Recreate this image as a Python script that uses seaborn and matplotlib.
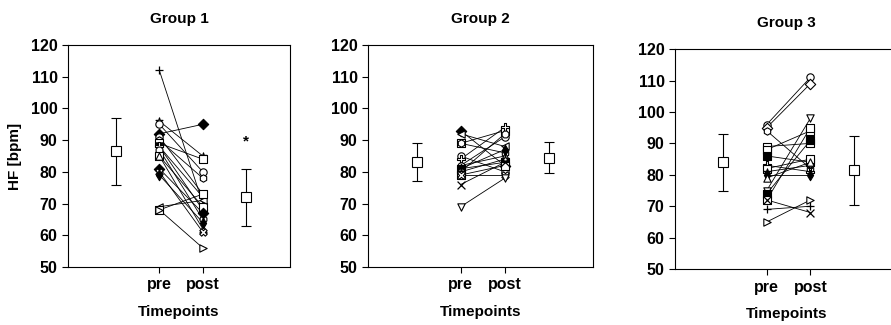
import numpy as np
import pandas as pd
import matplotlib
matplotlib.use("Agg")
import matplotlib.pyplot as plt
import seaborn as sns

# ── Data (heart rate, bpm) ──────────────────────────────────────────────────
groups = ["Group 1", "Group 2", "Group 3"]
tick_labels = ["pre", "post"]

g1_pre = [112, 96, 95, 92, 91, 90, 89, 88, 88, 87, 85, 85, 81, 80, 79, 69, 68, 68]
g1_post = [70, 85, 80, 95, 73, 78, 84, 72, 68, 65, 69, 62, 67, 61, 64, 71, 73, 56]

g2_pre = [93, 92, 89, 89, 85, 84, 82, 82, 81, 81, 80, 80, 79, 79, 76, 69]
g2_post = [82, 88, 93, 86, 80, 94, 85, 91, 83, 87, 92, 84, 82, 79, 83, 78]

g3_pre = [96, 95, 94, 89, 88, 86, 83, 82, 81, 80, 79, 75, 74, 72, 72, 69, 65]
g3_post = [111, 109, 82, 90, 94, 84, 81, 85, 83, 80, 84, 98, 91, 95, 68, 70, 72]

# group means and SD (pre, post)
mean_pre = [86.5, 83, 84]
mean_post = [72, 84.5, 81.5]
sd_pre = [10.5, 6, 9]
sd_post = [9, 5, 11]

# ── Style ──────────────────────────────────────────────────────────────────
sns.set_style("ticks")
plt.rcParams['font.family'] = ['Liberation Sans', 'DejaVu Sans']
plt.rcParams['font.weight'] = 'bold'
for key in ['text.color', 'axes.labelcolor', 'xtick.color', 'ytick.color', 'axes.edgecolor']:
    plt.rcParams[key] = 'black'

# subject markers per group (marker, facecolor); None = line marker
markers_g1 = [('+', None), ('*', 'white'), ('o', 'white'), ('D', 'black'), ('o', 'white'),
              ('h', 'white'), ('s', 'white'), ('v', 'black'), ('P', 'white'), ('8', 'white'),
              ('s', 'white'), ('^', 'white'), ('D', 'black'), ('X', 'white'), ('d', 'black'),
              ('<', 'white'), ('s', 'white'), ('>', 'white')]
markers_g2 = [('D', 'black'), ('<', 'white'), ('s', 'white'), ('h', 'white'), ('o', 'white'),
              ('P', 'white'), ('^', 'white'), ('o', 'white'), ('s', 'black'), ('d', 'black'),
              ('8', 'white'), ('*', 'white'), ('s', 'white'), ('X', 'white'), ('x', None),
              ('v', 'white')]
markers_g3 = [('o', 'white'), ('D', 'white'), ('h', 'white'), ('s', 'white'), ('s', 'white'),
              ('s', 'black'), ('P', 'white'), ('s', 'white'), ('*', 'white'), ('d', 'black'),
              ('^', 'white'), ('v', 'white'), ('s', 'black'), ('s', 'white'), ('x', None),
              ('+', None), ('>', 'white')]
marker_sets = [markers_g1, markers_g2, markers_g3]

fig = plt.figure(figsize=(8.91, 3.25), dpi=100)
positions = [[0.0763, 0.1785, 0.249, 0.683],
             [0.413, 0.1785, 0.2525, 0.683],
             [0.7576, 0.172, 0.25, 0.677]]

data = [(g1_pre, g1_post), (g2_pre, g2_post), (g3_pre, g3_post)]

for i, (pre, post) in enumerate(data):
    ax = fig.add_axes(positions[i])
    n = len(pre)
    df = pd.DataFrame({
        'subject': np.repeat(np.arange(n), 2),
        'time': np.tile([2, 3], n),
        'hr': np.ravel(np.column_stack([pre, post])),
    })

    # individual trajectories
    sns.lineplot(data=df, x='time', y='hr', units='subject', estimator=None,
                 color='black', lw=0.6, ax=ax, legend=False)
    for s in range(n):
        m, fc = marker_sets[i][s]
        sub = df[df['subject'] == s]
        if fc is None:
            sns.scatterplot(data=sub, x='time', y='hr', marker=m, s=32,
                            color='black', linewidth=0.9, ax=ax, legend=False, zorder=3)
        else:
            sns.scatterplot(data=sub, x='time', y='hr', marker=m, s=28,
                            facecolor=fc, edgecolor='black', linewidth=0.8,
                            ax=ax, legend=False, zorder=3)

    # mean ± SD at either side
    ax.errorbar([1, 4], [mean_pre[i], mean_post[i]], yerr=[sd_pre[i], sd_post[i]],
                fmt='s', ms=7, mfc='white', mec='black', mew=0.8,
                ecolor='black', elinewidth=0.8, capsize=3.5, capthick=0.8)
    if i == 0:
        ax.text(4, 89.5, '*', ha='center', va='center', fontsize=11, fontweight='bold')

    ax.set_xlim(-0.1, 5.0)
    ax.set_ylim(50, 120)
    ax.set_yticks(range(50, 121, 10))
    ax.set_xticks([2, 3])
    ax.set_xticklabels(tick_labels)
    ax.tick_params(labelsize=11.5, width=0.8, length=4, direction='out')
    for sp in ax.spines.values():
        sp.set_visible(True)
        sp.set_linewidth(0.8)
    ax.set_title(groups[i], fontsize=11, fontweight='bold', pad=16)
    ax.set_xlabel("Timepoints", fontsize=11, fontweight='bold', labelpad=9)
    if i == 0:
        ax.set_ylabel("HF [bpm]", fontsize=11, fontweight='bold', labelpad=6)
    else:
        ax.set_ylabel("")

fig.savefig('out.png', dpi=100)
plt.close(fig)
